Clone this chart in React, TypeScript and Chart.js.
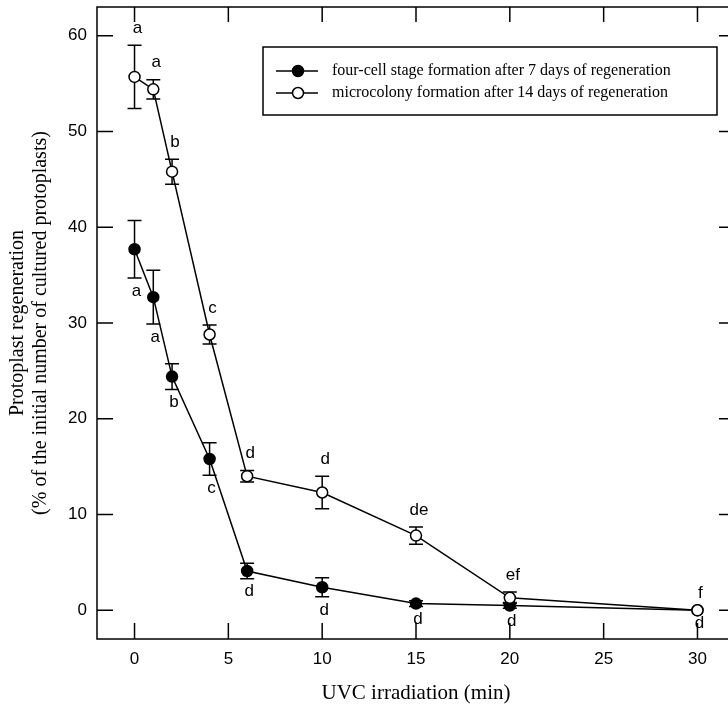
import React, { useEffect, useRef } from "react";
import { Chart, registerables } from "chart.js";

Chart.register(...registerables);

// ---- data ----
const xValues = [0, 1, 2, 4, 6, 10, 15, 20, 30];
const fourCellMeans = [37.7, 32.7, 24.4, 15.8, 4.1, 2.4, 0.7, 0.5, 0];
const fourCellErr = [3.0, 2.8, 1.35, 1.7, 0.8, 1.0, 0.3, 0.3, 0];
const fourCellLetters = ["a", "a", "b", "c", "d", "d", "d", "d", "d"];
const microMeans = [55.7, 54.4, 45.8, 28.8, 14.0, 12.3, 7.8, 1.3, 0];
const microErr = [3.3, 1.0, 1.3, 1.0, 0.6, 1.7, 0.9, 0.6, 0];
const microLetters = ["a", "a", "b", "c", "d", "d", "de", "ef", "f"];
const xTickValues = [0, 5, 10, 15, 20, 25, 30];
const yTickValues = [0, 10, 20, 30, 40, 50, 60];
const fourCellLabel = "four-cell stage formation after 7 days of regeneration";
const microLabel = "microcolony formation after 14 days of regeneration";
const xTitle = "UVC irradiation (min)";
const yTitle = ["Protoplast regeneration", "(% of the initial number of cultured protoplasts)"];

const W = 760;
const H = 711;
const SANS = "'Liberation Sans', Arial, sans-serif";
const SERIF = "'Liberation Serif', 'Times New Roman', serif";

export default function App() {
  const ref = useRef<HTMLCanvasElement>(null);

  useEffect(() => {
    const canvas = ref.current!;

    const errorBars = {
      id: "errorBars",
      beforeDatasetsDraw(chart: any) {
        const { ctx } = chart;
        const xs = chart.scales.x;
        const ys = chart.scales.y;
        const series = [
          { m: microMeans, e: microErr },
          { m: fourCellMeans, e: fourCellErr },
        ];
        ctx.save();
        ctx.strokeStyle = "#000";
        ctx.lineWidth = 1.5;
        series.forEach((s) => {
          xValues.forEach((xv, i) => {
            if (!s.e[i]) return;
            const px = xs.getPixelForValue(xv);
            const top = ys.getPixelForValue(s.m[i] + s.e[i]);
            const bot = ys.getPixelForValue(s.m[i] - s.e[i]);
            ctx.beginPath();
            ctx.moveTo(px, top);
            ctx.lineTo(px, bot);
            ctx.moveTo(px - 7, top);
            ctx.lineTo(px + 7, top);
            ctx.moveTo(px - 7, bot);
            ctx.lineTo(px + 7, bot);
            ctx.stroke();
          });
        });
        ctx.restore();
      },
    };

    const lettersAndFrame = {
      id: "lettersAndFrame",
      afterDraw(chart: any) {
        const { ctx, chartArea: a } = chart;
        const xs = chart.scales.x;
        const ys = chart.scales.y;
        ctx.save();
        // letters
        ctx.fillStyle = "#000";
        ctx.font = `17px ${SANS}`;
        ctx.textAlign = "center";
        ctx.textBaseline = "middle";
        xValues.forEach((xv, i) => {
          const px = xs.getPixelForValue(xv);
          const topM = ys.getPixelForValue(microMeans[i] + microErr[i]);
          ctx.fillText(microLetters[i], px + 3, topM - 17);
          const botF = ys.getPixelForValue(fourCellMeans[i] - fourCellErr[i]);
          ctx.fillText(fourCellLetters[i], px + 2, botF + 13);
        });
        // frame
        ctx.strokeStyle = "#000";
        ctx.lineWidth = 1.5;
        ctx.strokeRect(a.left, a.top, a.right - a.left, a.bottom - a.top);
        // inward ticks
        ctx.beginPath();
        xTickValues.forEach((v) => {
          const px = xs.getPixelForValue(v);
          ctx.moveTo(px, a.bottom);
          ctx.lineTo(px, a.bottom - 16);
          ctx.moveTo(px, a.top);
          ctx.lineTo(px, a.top + 15);
        });
        yTickValues.forEach((v) => {
          const py = ys.getPixelForValue(v);
          ctx.moveTo(a.left, py);
          ctx.lineTo(a.left + 16, py);
          ctx.moveTo(a.right, py);
          ctx.lineTo(a.right - 16, py);
        });
        ctx.stroke();
        // legend
        const lx = 263, ly = 47, lw = 454, lh = 68;
        ctx.fillStyle = "#fff";
        ctx.fillRect(lx, ly, lw, lh);
        ctx.strokeRect(lx, ly, lw, lh);
        const rows = [
          { y: 71, fill: "#000", text: fourCellLabel },
          { y: 93, fill: "#fff", text: microLabel },
        ];
        rows.forEach((r) => {
          ctx.beginPath();
          ctx.moveTo(276, r.y);
          ctx.lineTo(318, r.y);
          ctx.stroke();
          ctx.beginPath();
          ctx.arc(298, r.y, 5.5, 0, Math.PI * 2);
          ctx.fillStyle = r.fill;
          ctx.fill();
          ctx.stroke();
          ctx.fillStyle = "#000";
          ctx.font = `16px ${SERIF}`;
          ctx.textAlign = "left";
          ctx.textBaseline = "middle";
          ctx.fillText(r.text, 332, r.y);
        });
        ctx.restore();
      },
    };

    const chart = new Chart(canvas, {
      type: "line",
      data: {
        datasets: [
          {
            label: microLabel,
            data: xValues.map((x, i) => ({ x, y: microMeans[i] })),
            borderColor: "#000",
            borderWidth: 1.5,
            pointRadius: 5.5,
            pointBorderWidth: 1.5,
            pointBackgroundColor: "#fff",
            pointBorderColor: "#000",
            tension: 0,
          },
          {
            label: fourCellLabel,
            data: xValues.map((x, i) => ({ x, y: fourCellMeans[i] })),
            borderColor: "#000",
            borderWidth: 1.5,
            pointRadius: 5.5,
            pointBorderWidth: 1.5,
            pointBackgroundColor: "#000",
            pointBorderColor: "#000",
            tension: 0,
          },
        ],
      },
      options: {
        responsive: false,
        animation: false,
        devicePixelRatio: 1,
        layout: { padding: { left: 0, top: 6, right: 25, bottom: 0 } },
        plugins: {
          legend: { display: false },
          tooltip: { enabled: false },
        },
        scales: {
          x: {
            type: "linear",
            min: -2,
            max: 32,
            grid: { display: false, drawTicks: false },
            border: { display: false },
            afterBuildTicks: (axis: any) => {
              axis.ticks = xTickValues.map((v) => ({ value: v }));
            },
            afterFit: (s: any) => {
              s.height = 72;
              s.paddingLeft = 0;
              s.paddingRight = 0;
            },
            ticks: {
              autoSkip: false,
              maxRotation: 0,
              padding: 10,
              color: "#000",
              font: { family: SANS, size: 17 },
            },
            title: {
              display: true,
              text: xTitle,
              color: "#000",
              font: { family: SERIF, size: 21 },
              padding: { top: 0, bottom: 5 },
            },
          },
          y: {
            type: "linear",
            min: -3,
            max: 63,
            grid: { display: false, drawTicks: false },
            border: { display: false },
            afterBuildTicks: (axis: any) => {
              axis.ticks = yTickValues.map((v) => ({ value: v }));
            },
            afterFit: (s: any) => {
              s.width = 97;
              s.paddingTop = 0;
              s.paddingBottom = 0;
            },
            ticks: {
              padding: 10,
              color: "#000",
              font: { family: SANS, size: 17 },
            },
            title: {
              display: true,
              text: yTitle,
              color: "#000",
              font: { family: SERIF, size: 20, lineHeight: 1.15 },
              padding: { top: 6, bottom: 0 },
            },
          },
        },
      },
      plugins: [errorBars, lettersAndFrame],
    } as any);

    return () => chart.destroy();
  }, []);

  return (
    <div
      style={{
        position: "fixed",
        left: 0,
        top: 0,
        width: 728,
        height: 711,
        overflow: "hidden",
        background: "#fff",
      }}
    >
      <canvas ref={ref} width={W} height={H} style={{ display: "block", width: W, height: H }} />
    </div>
  );
}
